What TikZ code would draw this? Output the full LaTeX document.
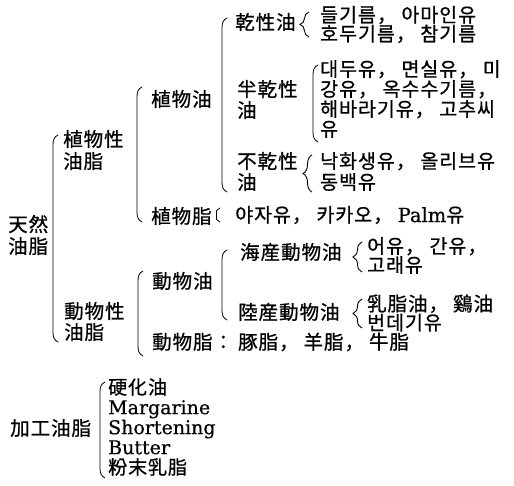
\documentclass[tikz,border=0pt]{standalone}
\usepackage{fontspec}
\usetikzlibrary{decorations.pathreplacing}
\newfontfamily\cjk{Noto Sans CJK KR}[LetterSpace=5, FakeBold=0.8]
\newfontfamily\lat{DejaVu Serif}[FakeBold=0.5]
\newcommand\kcomma{，\hspace{5pt}}
\newcommand\kcolon{：\hspace{5pt}}
\tikzset{
  txt/.style={anchor=west, inner sep=0pt, align=left, font=\cjk\fontsize{19.5}{21}\selectfont},
  lsk/.style={font=\cjk\fontsize{19.5}{#1}\selectfont},
  brk/.style={line width=0.8pt, line cap=round},
  brc/.style={line width=0.9pt, decorate, decoration={brace, amplitude=9pt}},
}
\newcommand\pbrk[3]{%
  \draw[brk] (#1+5,#2) .. controls (#1+1,#2+2) and (#1,#2+5) .. (#1,#2+10) -- (#1,#3-10) .. controls (#1,#3-5) and (#1+1,#3-2) .. (#1+5,#3);}
\begin{document}
\begin{tikzpicture}[x=1pt,y=-1pt]
\path[use as bounding box] (0,0) rectangle (514,485);

\node[txt, lsk=22] (tr) at (8,235) {天然\\油脂};
\node[txt, lsk=22] (zwx) at (63,150) {植物性\\油脂};
\node[txt, lsk=21] (dwx) at (64,321.5) {動物性\\油脂};
\node[txt] (zwy) at (151,99) {植物油};
\node[txt] (zwz) at (151,216) {植物脂};
\node[txt] (dwy) at (152,281) {動物油};
\node[txt] (dwz) at (152,342) {動物脂\kcolon 豚脂\kcomma 羊脂\kcomma 牛脂};
\node[txt] (gx) at (235,22) {乾性油};
\node[txt, lsk=19] (gxl) at (320,24.5) {들기름\kcomma 아마인유\\호두기름\kcomma 참기름};
\node[txt, lsk=21] (bgx) at (237,99.5) {半乾性\\油};
\node[txt, lsk=20] (bgxl) at (320,99) {대두유\kcomma 면실유\kcomma 미\\강유\kcomma 옥수수기름，\\해바라기유\kcomma 고추씨\\유};
\node[txt, lsk=21] (bux) at (237,171.5) {不乾性\\油};
\node[txt, lsk=21] (buxl) at (320,171.5) {낙화생유\kcomma 올리브유\\동백유};
\node[txt] (yz) at (235,215) {야자유\kcomma 카카오\kcomma {\lat Palm}유};
\node[txt] (hc) at (240,252) {海産動物油};
\node[txt, lsk=19] (hcl) at (367,255.5) {어유\kcomma 간유，\\고래유};
\node[txt] (lc) at (238,312) {陸産動物油};
\node[txt, lsk=19] (lcl) at (367,313) {乳脂油\kcomma 鷄油\\번데기유};
\node[txt] (jg) at (10,428) {加工油脂};
\node[txt, font=\cjk\fontsize{19}{20}\selectfont] (jgl) at (108,427) {硬化油\\{\lat Margarine}\\{\lat Shortening}\\{\lat Butter}\\粉末乳脂};

% brackets
\pbrk{53}{135}{342}
\pbrk{137}{87}{222}
\pbrk{138}{271}{356}
\pbrk{222}{18}{192}
\pbrk{313}{65}{142}
\pbrk{222}{250}{320}
\pbrk{100}{382}{478}
\draw[brk] (220,208) -- (216.5,210.5) -- (216.5,219.5) -- (220,222);

% braces
\draw[brc] (309,37) -- (309,12);
\draw[brc] (312,192) -- (312,155);
\draw[brc] (362,272) -- (362,242);
\draw[brc] (362,328) -- (362,299);
\end{tikzpicture}
\end{document}
